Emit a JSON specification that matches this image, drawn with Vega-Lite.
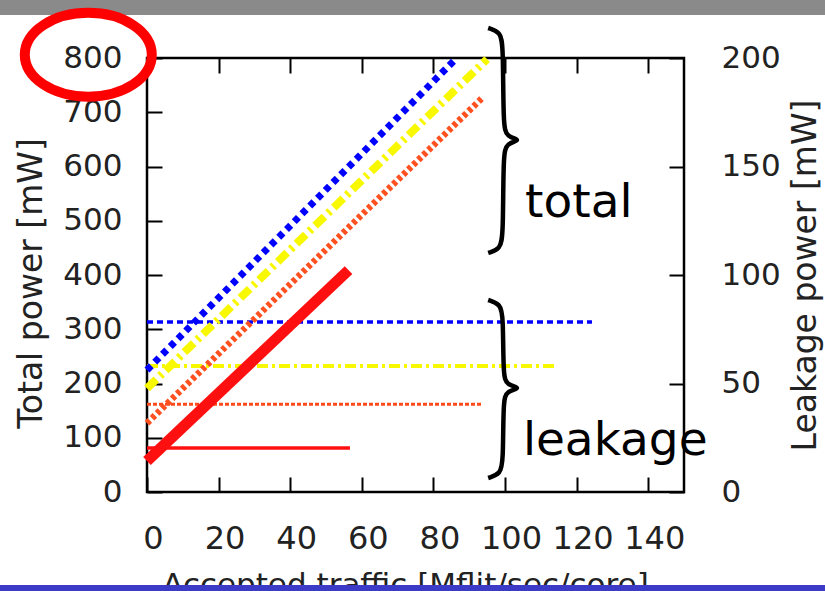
{
  "$schema": "https://vega.github.io/schema/vega-lite/v6.json",
  "width": 537,
  "height": 434,
  "autosize": {"type": "none"},
  "padding": {"left": 147, "top": 58, "right": 141, "bottom": 99},
  "background": "white",
  "config": {
    "view": {"stroke": "black", "strokeWidth": 2.5},
    "axis": {"grid": false, "domain": false, "tickColor": "black", "tickWidth": 2, "labelFlush": false, "labelOverlap": false, "labelFont": "DejaVu Sans", "labelColor": "#222", "titleFont": "DejaVu Sans", "titleFontWeight": "normal", "titleColor": "#222"},
    "line": {"strokeCap": "butt"}
  },
  "datasets": {
    "totals": [
      {"series": "blue", "traffic": 0, "power": 225},
      {"series": "blue", "traffic": 86.5, "power": 800},
      {"series": "yellow", "traffic": 0, "power": 191},
      {"series": "yellow", "traffic": 95, "power": 798},
      {"series": "orange", "traffic": 0, "power": 127},
      {"series": "orange", "traffic": 93.9, "power": 728},
      {"series": "red", "traffic": 0, "power": 57},
      {"series": "red", "traffic": 56.3, "power": 409}
    ],
    "leakage": [
      {"series": "blue", "traffic": 0, "power": 78.3},
      {"series": "blue", "traffic": 124.3, "power": 78.3},
      {"series": "yellow", "traffic": 0, "power": 58.1},
      {"series": "yellow", "traffic": 114, "power": 58.1},
      {"series": "orange", "traffic": 0, "power": 40.4},
      {"series": "orange", "traffic": 93.8, "power": 40.4},
      {"series": "red", "traffic": 0, "power": 20.3},
      {"series": "red", "traffic": 56.7, "power": 20.3}
    ],
    "braces": [
      {"brace": "total", "i": 0, "x": 95.3, "y": 855.3},
      {"brace": "total", "i": 1, "x": 98.7, "y": 847.9},
      {"brace": "total", "i": 2, "x": 99.5, "y": 824.0},
      {"brace": "total", "i": 3, "x": 99.5, "y": 676.5},
      {"brace": "total", "i": 4, "x": 100.4, "y": 654.4},
      {"brace": "total", "i": 5, "x": 104.8, "y": 648.8},
      {"brace": "total", "i": 6, "x": 100.4, "y": 643.3},
      {"brace": "total", "i": 7, "x": 99.5, "y": 621.2},
      {"brace": "total", "i": 8, "x": 99.5, "y": 473.7},
      {"brace": "total", "i": 9, "x": 98.7, "y": 447.9},
      {"brace": "total", "i": 10, "x": 95.3, "y": 440.6},
      {"brace": "leakage", "i": 0, "x": 95.3, "y": 353.9},
      {"brace": "leakage", "i": 1, "x": 98.7, "y": 346.5},
      {"brace": "leakage", "i": 2, "x": 99.5, "y": 324.4},
      {"brace": "leakage", "i": 3, "x": 99.5, "y": 215.7},
      {"brace": "leakage", "i": 4, "x": 100.4, "y": 197.2},
      {"brace": "leakage", "i": 5, "x": 104.8, "y": 191.7},
      {"brace": "leakage", "i": 6, "x": 100.4, "y": 186.2},
      {"brace": "leakage", "i": 7, "x": 99.5, "y": 167.7},
      {"brace": "leakage", "i": 8, "x": 99.5, "y": 55.3},
      {"brace": "leakage", "i": 9, "x": 98.7, "y": 33.2},
      {"brace": "leakage", "i": 10, "x": 95.3, "y": 25.8}
    ],
    "labels": [
      {"text": "total", "x": 105.6, "y": 507},
      {"text": "leakage", "x": 105.0, "y": 68}
    ],
    "highlight": [{"label": "800", "x": -16.4, "y": 806}],
    "topband": [{"x": -41.1, "x2": 189.5, "y": 879.3, "y2": 910}],
    "bottombar": [{"x": -41.1, "x2": 189.5, "y": -171.4, "y2": -185}]
  },
  "layer": [
    {
      "data": {"name": "topband"},
      "mark": {"type": "rect", "color": "#8a8a8a"},
      "encoding": {
        "x": {"field": "x", "type": "quantitative", "scale": {"domain": [0, 150], "nice": false}, "axis": null},
        "x2": {"field": "x2"},
        "y": {"field": "y", "type": "quantitative", "scale": {"domain": [0, 800], "nice": false}, "axis": null},
        "y2": {"field": "y2"}
      }
    },
    {
      "data": {"name": "bottombar"},
      "mark": {"type": "rect", "color": "#3b3bc8"},
      "encoding": {
        "x": {"field": "x", "type": "quantitative", "scale": {"domain": [0, 150], "nice": false}, "axis": null},
        "x2": {"field": "x2"},
        "y": {"field": "y", "type": "quantitative", "scale": {"domain": [0, 800], "nice": false}, "axis": null},
        "y2": {"field": "y2"}
      }
    },
    {
      "data": {"name": "leakage"},
      "transform": [{"filter": "datum.series === 'blue'"}],
      "mark": {"type": "line", "color": "#0000ff", "strokeWidth": 3.5, "strokeDash": [6, 4]},
      "encoding": {
        "x": {"field": "traffic", "type": "quantitative", "scale": {"domain": [0, 150], "nice": false}, "axis": null},
        "y": {"field": "power", "type": "quantitative", "scale": {"domain": [0, 200], "nice": false},
          "axis": {"orient": "right", "values": [0, 50, 100, 150, 200], "tickSize": -15, "labelFontSize": 31, "labelPadding": 52,
            "title": "Leakage power [mW]", "titleFontSize": 33, "titleAngle": 270, "titleX": 121, "titleY": 217, "titleAlign": "center", "titleBaseline": "middle"}}
      }
    },
    {
      "data": {"name": "leakage"},
      "transform": [{"filter": "datum.series === 'yellow'"}],
      "mark": {"type": "line", "color": "#f8f800", "strokeWidth": 4, "strokeDash": [11, 4, 3, 4]},
      "encoding": {
        "x": {"field": "traffic", "type": "quantitative", "scale": {"domain": [0, 150], "nice": false}, "axis": null},
        "y": {"field": "power", "type": "quantitative", "scale": {"domain": [0, 200], "nice": false}, "axis": null}
      }
    },
    {
      "data": {"name": "leakage"},
      "transform": [{"filter": "datum.series === 'orange'"}],
      "mark": {"type": "line", "color": "#ff4a1c", "strokeWidth": 3, "strokeDash": [4, 2]},
      "encoding": {
        "x": {"field": "traffic", "type": "quantitative", "scale": {"domain": [0, 150], "nice": false}, "axis": null},
        "y": {"field": "power", "type": "quantitative", "scale": {"domain": [0, 200], "nice": false}, "axis": null}
      }
    },
    {
      "data": {"name": "leakage"},
      "transform": [{"filter": "datum.series === 'red'"}],
      "mark": {"type": "line", "color": "#ff1010", "strokeWidth": 3.5},
      "encoding": {
        "x": {"field": "traffic", "type": "quantitative", "scale": {"domain": [0, 150], "nice": false}, "axis": null},
        "y": {"field": "power", "type": "quantitative", "scale": {"domain": [0, 200], "nice": false}, "axis": null}
      }
    },
    {
      "data": {"name": "totals"},
      "transform": [{"filter": "datum.series === 'blue'"}],
      "mark": {"type": "line", "color": "#0000ff", "strokeWidth": 7, "strokeDash": [6, 5]},
      "encoding": {
        "x": {"field": "traffic", "type": "quantitative", "scale": {"domain": [0, 150], "nice": false},
          "axis": {"orient": "bottom", "values": [0, 20, 40, 60, 80, 100, 120, 140], "tickSize": -15, "labelFontSize": 32, "labelPadding": 46, "labelOffset": 6,
            "title": "Accepted traffic [Mflit/sec/core]", "titleFontSize": 31, "titleX": 258, "titleY": 102, "titleAlign": "center", "titleBaseline": "alphabetic"}},
        "y": {"field": "power", "type": "quantitative", "scale": {"domain": [0, 800], "nice": false},
          "axis": {"orient": "left", "values": [0, 100, 200, 300, 400, 500, 600, 700, 800], "tickSize": -15, "labelFontSize": 31, "labelPadding": 40,
            "title": "Total power  [mW]", "titleFontSize": 33, "titleAngle": 270, "titleX": -116, "titleY": 225, "titleAlign": "center", "titleBaseline": "middle"}}
      }
    },
    {
      "data": {"name": "totals"},
      "transform": [{"filter": "datum.series === 'yellow'"}],
      "mark": {"type": "line", "color": "#f8f800", "strokeWidth": 8, "strokeDash": [13, 5, 3, 5]},
      "encoding": {
        "x": {"field": "traffic", "type": "quantitative", "scale": {"domain": [0, 150], "nice": false},
          "axis": {"orient": "top", "values": [20, 40, 60, 80, 100, 120, 140], "tickSize": -15, "labels": false, "title": null}},
        "y": {"field": "power", "type": "quantitative", "scale": {"domain": [0, 800], "nice": false}, "axis": null}
      }
    },
    {
      "data": {"name": "totals"},
      "transform": [{"filter": "datum.series === 'orange'"}],
      "mark": {"type": "line", "color": "#ff5020", "strokeWidth": 6.5, "strokeDash": [4, 3]},
      "encoding": {
        "x": {"field": "traffic", "type": "quantitative", "scale": {"domain": [0, 150], "nice": false}, "axis": null},
        "y": {"field": "power", "type": "quantitative", "scale": {"domain": [0, 800], "nice": false}, "axis": null}
      }
    },
    {
      "data": {"name": "totals"},
      "transform": [{"filter": "datum.series === 'red'"}],
      "mark": {"type": "line", "color": "#ff1010", "strokeWidth": 11},
      "encoding": {
        "x": {"field": "traffic", "type": "quantitative", "scale": {"domain": [0, 150], "nice": false}, "axis": null},
        "y": {"field": "power", "type": "quantitative", "scale": {"domain": [0, 800], "nice": false}, "axis": null}
      }
    },
    {
      "data": {"name": "braces"},
      "mark": {"type": "line", "interpolate": "basis", "color": "black", "strokeWidth": 4.5},
      "encoding": {
        "x": {"field": "x", "type": "quantitative", "scale": {"domain": [0, 150], "nice": false}, "axis": null},
        "y": {"field": "y", "type": "quantitative", "scale": {"domain": [0, 800], "nice": false}, "axis": null},
        "detail": {"field": "brace", "type": "nominal"},
        "order": {"field": "i", "type": "quantitative"}
      }
    },
    {
      "data": {"name": "labels"},
      "mark": {"type": "text", "font": "DejaVu Sans", "fontSize": 47, "align": "left", "baseline": "alphabetic", "color": "black"},
      "encoding": {
        "x": {"field": "x", "type": "quantitative", "scale": {"domain": [0, 150], "nice": false}, "axis": null},
        "y": {"field": "y", "type": "quantitative", "scale": {"domain": [0, 800], "nice": false}, "axis": null},
        "text": {"field": "text", "type": "nominal"}
      }
    },
    {
      "data": {"name": "highlight"},
      "mark": {"type": "point", "shape": "M -1 0 C -1 -0.365 -0.5523 -0.66 0 -0.66 C 0.5523 -0.66 1 -0.365 1 0 C 1 0.365 0.5523 0.66 0 0.66 C -0.5523 0.66 -1 0.365 -1 0 Z", "size": 16129, "filled": false, "stroke": "#ff0000", "strokeWidth": 10, "opacity": 1},
      "encoding": {
        "x": {"field": "x", "type": "quantitative", "scale": {"domain": [0, 150], "nice": false}, "axis": null},
        "y": {"field": "y", "type": "quantitative", "scale": {"domain": [0, 800], "nice": false}, "axis": null}
      }
    }
  ],
  "resolve": {"scale": {"y": "independent"}, "axis": {"x": "independent", "y": "independent"}}
}
